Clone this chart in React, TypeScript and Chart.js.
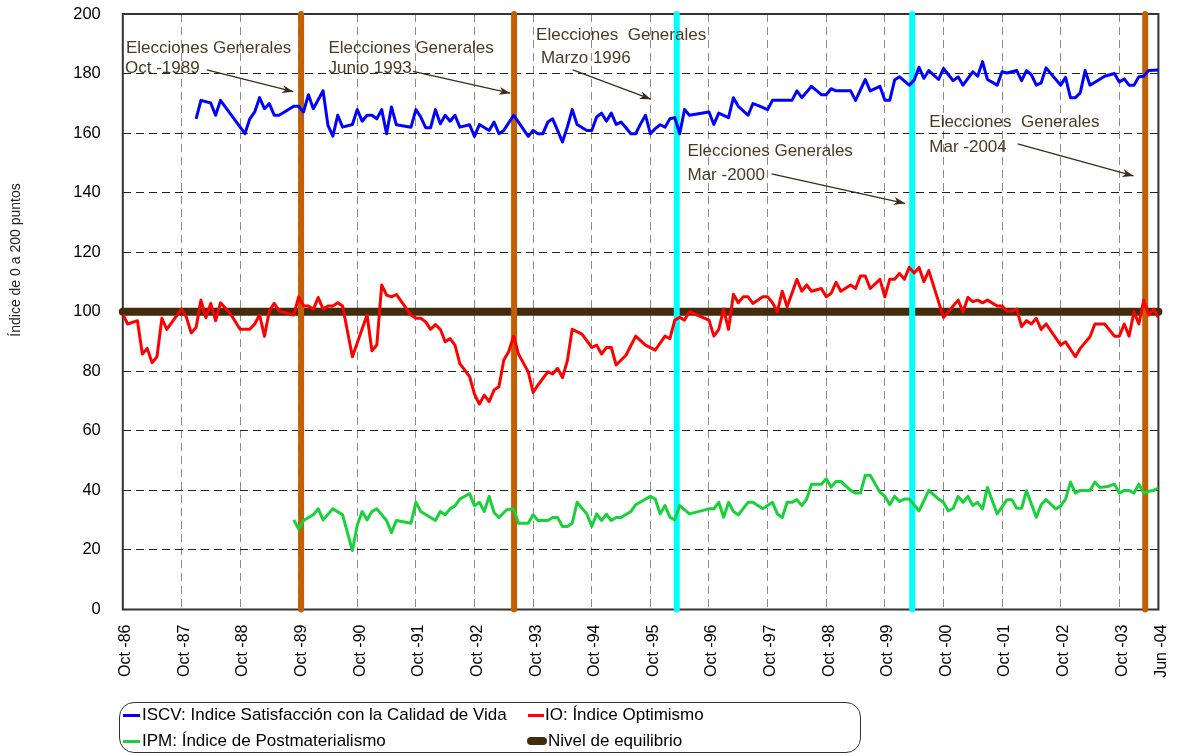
import React, { useEffect, useRef } from 'react';
import { Chart, registerables } from 'chart.js';

Chart.register(...registerables);

const FONT = '"Liberation Sans", Arial, Helvetica, sans-serif';

// x axis: months counted from Oct-1986 (0) to Jun-2004 (212)
const xTickMonths = [0, 12, 24, 36, 48, 60, 72, 84, 96, 108, 120, 132, 144, 156, 168, 180, 192, 204, 212];
const xTickLabels = [
  'Oct -86', 'Oct -87', 'Oct -88', 'Oct -89', 'Oct -90', 'Oct -91', 'Oct -92', 'Oct -93', 'Oct -94',
  'Oct -95', 'Oct -96', 'Oct -97', 'Oct -98', 'Oct -99', 'Oct -00', 'Oct -01', 'Oct -02', 'Oct -03', 'Jun -04',
];
const yMin = 0;
const yMax = 200;
const yStep = 20;

// ISCV: Indice Satisfacción con la Calidad de Vida  [month, value]
const iscv: [number, number][] = [
  [15, 164.8], [16, 171], [18, 170.1], [19, 166], [20, 171], [25, 159.8], [26, 164.8], [27, 167.1], [28, 171.9],
  [29, 168.2], [30, 169.9], [31, 166], [32, 166], [35, 169], [36, 169], [37, 167.1], [38, 172.9], [39, 168.2],
  [41, 174.2], [42, 162.6], [43, 159], [44, 166], [45, 162], [47, 162.9], [48, 167.9], [49, 164], [50, 166],
  [51, 166], [52, 164.8], [53, 167.9], [54, 159.8], [55, 168.8], [56, 162.8], [59, 162], [60, 167.9], [61, 165.4],
  [62, 161.8], [63, 161.8], [64, 167.9], [65, 163.1], [66, 166], [67, 164], [68, 166], [69, 162], [71, 162.8],
  [72, 158.9], [73, 162.9], [75, 160.9], [76, 163.7], [77, 159.8], [78, 160.9], [80, 166], [81, 163.7], [83, 158.9],
  [84, 160.9], [85, 159.8], [86, 159.8], [87, 163.7], [88, 164.8], [89, 160.9], [90, 157], [91, 162], [92, 167.9],
  [93, 162.9], [95, 160.9], [96, 160.9], [97, 165.4], [98, 166.7], [99, 164], [100, 166.7], [101, 162.9],
  [102, 163.7], [103, 161.8], [104, 159.8], [105, 159.8], [106, 163.1], [107, 166], [108, 159.8], [109, 161.5],
  [110, 162.8], [111, 162], [112, 164.8], [113, 165.2], [114, 159.8], [115, 167.9], [116, 166], [120, 167.1],
  [121, 162.9], [122, 166.7], [124, 165.2], [125, 171.9], [126, 169], [128, 166], [129, 169.9], [130, 169.3],
  [132, 167.9], [133, 171], [137, 171], [138, 174.2], [139, 171.9], [141, 175.7], [143, 172.9], [144, 172.9],
  [145, 174.9], [146, 174.2], [149, 174.2], [150, 171], [152, 178], [153, 174.2], [155, 175.7], [156, 171],
  [157, 171], [158, 177.8], [159, 178.9], [161, 176.1], [162, 177.8], [163, 182.1], [164, 178.4], [165, 181],
  [167, 178], [168, 181.7], [170, 177.6], [171, 178.9], [172, 176.1], [174, 180.6], [175, 179.1], [176, 184],
  [177, 178], [179, 176.1], [180, 180.6], [181, 180.2], [183, 181], [184, 177.6], [185, 181], [186, 179.6],
  [187, 176.1], [188, 176.9], [189, 181.9], [192, 176.1], [193, 178.7], [194, 171.9], [195, 171.9], [196, 173.5],
  [197, 181], [198, 176.1], [201, 179.1], [203, 180], [204, 177.2], [205, 178.2], [206, 176.1], [207, 176.1],
  [208, 178.9], [209, 179.1], [210, 181], [212, 181.2],
];

// IO: Índice Optimismo
const io: [number, number][] = [
  [0, 99.2], [1, 95.9], [3, 97], [4, 85.8], [5, 87.7], [6, 82.9], [7, 84.9], [8, 97.8], [9, 94.1], [12, 100.9],
  [13, 98.3], [14, 92.9], [15, 94.7], [16, 103.9], [17, 98], [18, 102.8], [19, 97], [20, 103], [22, 99.4],
  [24, 94.1], [26, 94.1], [27, 95.9], [28, 98.9], [29, 91.8], [30, 100.3], [31, 102.8], [32, 100.2], [35, 98.9],
  [36, 105], [37, 102], [38, 101.9], [39, 100.8], [40, 104.8], [41, 100.9], [42, 101.9], [43, 101.9], [44, 103],
  [45, 101.9], [47, 84.9], [50, 98.9], [51, 86.9], [52, 88.8], [53, 109], [54, 105.6], [55, 105], [56, 105.8],
  [59, 98.9], [60, 97.8], [61, 97.8], [62, 96.6], [63, 94.1], [64, 95.7], [65, 94.1], [66, 89.9], [67, 91],
  [68, 88.8], [69, 82.6], [71, 78.2], [72, 72.3], [73, 69], [74, 72], [75, 69.8], [76, 73.7], [77, 74.8],
  [78, 83.8], [79, 86.6], [80, 91.8], [81, 85.8], [83, 79.8], [84, 72.9], [85, 75.4], [87, 79.8], [88, 79.1],
  [89, 81], [90, 77.9], [91, 83.5], [92, 94.1], [94, 92.5], [96, 88], [97, 88.8], [98, 85.8], [99, 88], [100, 88],
  [101, 82.1], [103, 85.4], [105, 91.8], [107, 88.8], [109, 87.1], [111, 91.8], [112, 91], [113, 97.2], [114, 98.1],
  [115, 97.2], [116, 100], [120, 97.2], [121, 91.8], [122, 94.1], [123, 100.9], [124, 94.1], [125, 105.9],
  [126, 103], [127, 105], [128, 105], [129, 102.8], [131, 105], [132, 105], [133, 103], [134, 100], [135, 106.9],
  [136, 101.7], [138, 110.9], [139, 106.9], [140, 109], [141, 106.9], [143, 107.8], [144, 105], [145, 106.2],
  [146, 109.9], [147, 106.9], [149, 109], [150, 107.8], [151, 112], [152, 112], [153, 107.8], [155, 110.9],
  [156, 105], [157, 110.9], [158, 110.9], [159, 112.9], [160, 110.9], [161, 114.9], [162, 113], [163, 114.9],
  [164, 110.1], [165, 113.8], [168, 98.1], [171, 103.9], [172, 100], [173, 104.8], [174, 103.4], [175, 103.9],
  [176, 103], [177, 103.9], [179, 101.9], [180, 101.9], [181, 100.2], [182, 100.2], [183, 100.9], [184, 95],
  [185, 97], [186, 95.9], [187, 97.8], [188, 94.1], [189, 95.9], [192, 88.8], [193, 89.9], [195, 84.9], [196, 87.7],
  [198, 91.6], [199, 95.9], [201, 95.9], [203, 91.8], [204, 91.8], [205, 95.9], [206, 91.8], [207, 100], [208, 95.9],
  [209, 103.9], [210, 98.9], [211, 100.8], [212, 98.1],
];

// IPM: Índice de Postmaterialismo
const ipm: [number, number][] = [
  [35, 30.1], [36, 27], [37, 29.9], [39, 31.8], [40, 33.8], [41, 30.1], [43, 33.8], [45, 31.8], [47, 19.8],
  [48, 28.4], [49, 32.9], [50, 30.1], [51, 32.9], [52, 33.8], [54, 29.9], [55, 25.8], [56, 29.9], [59, 29],
  [60, 36], [61, 32.9], [64, 29.9], [65, 32.9], [66, 31.8], [67, 33.8], [68, 34.8], [69, 37.1], [71, 38.9],
  [72, 34.8], [73, 36], [74, 32.9], [75, 38], [76, 32.6], [77, 30.9], [78.6, 33.5], [80, 33.8], [81, 29], [83, 29],
  [84, 31.8], [85, 29.9], [87, 29.9], [88, 30.9], [89, 30.9], [90, 27.9], [91, 27.9], [92, 29], [93, 36], [95, 32.1],
  [96, 27.9], [97, 32.1], [98, 29.9], [99, 32], [100, 29.9], [101, 30.9], [102, 30.9], [104, 32.9], [105, 35.2],
  [108, 38], [109, 37.1], [110, 32.1], [111, 34.9], [112, 31], [113, 30.1], [114, 34.9], [116, 32.1], [120, 33.8],
  [121, 33.8], [122, 36], [123, 31], [124, 36], [125, 32.9], [126, 31.8], [128, 36], [129, 36], [131, 33.8],
  [133, 36], [134, 32.1], [135, 30.9], [136, 36], [137, 36], [138, 36.9], [139, 34.9], [140, 37.1], [141, 42.1],
  [143, 42.1], [144, 43.9], [145, 41.1], [146, 43], [147, 43], [149, 40], [150, 39.1], [151, 39.1], [152, 45.1],
  [153, 45.1], [155, 39.4], [156, 38], [157, 35.2], [158, 38], [159, 36.3], [160, 37.1], [161, 37.1], [163, 33.1],
  [165, 40], [167, 37.1], [168, 36], [169, 33.1], [170, 34], [171, 38], [172, 36], [173, 38], [174, 34.9], [175, 36],
  [176, 33.8], [177, 41], [179, 32.1], [181, 36.9], [182, 36.9], [183, 34], [184, 34], [185, 39.9], [187, 31],
  [188, 35.2], [189, 36.9], [191, 33.8], [192, 34.8], [193, 37.1], [194, 42.8], [195, 39.1], [196, 40], [198, 40],
  [199, 42.8], [200, 41], [201.6, 41.3], [203, 42.1], [204, 39.1], [205, 40], [206, 40], [207, 39.1], [208, 42.1],
  [209, 39.1], [210, 39.7], [211, 40], [212, 40.8],
];

// Nivel de equilibrio
const equilibriumLevel = 100;

// Elecciones generales (month index from Oct-86)
const electionMonths = [36.5, 80.1, 113.4, 161.6, 209.3];
const electionColors = ['#C06000', '#C06000', '#00FFFF', '#00FFFF', '#C06000'];

const annotationTexts = [
  ['Elecciones Generales', 'Oct -1989'],
  ['Elecciones Generales', 'Junio 1993'],
  ['Elecciones  Generales', 'Marzo 1996'],
  ['Elecciones Generales', 'Mar -2000'],
  ['Elecciones  Generales', 'Mar -2004'],
];
// anchor positions (in axis units) for the annotation texts and arrows
const annotationLayout = [
  { text: [[0.65, 186.9], [0.45, 180.2]], from: [17.2, 181.2], to: [34.9, 173.9] },
  { text: [[42.1, 186.9], [42.1, 180.2]], from: [59.4, 180.7], to: [79.3, 173.4] },
  { text: [[84.6, 191.1], [85.6, 183.5]], from: [92.1, 181.2], to: [108.1, 171.4] },
  { text: [[115.6, 152.3], [115.6, 144.3]], from: [132.8, 146.3], to: [160.1, 136.4] },
  { text: [[165.1, 162.0], [165.1, 153.8]], from: [183.2, 156.4], to: [206.9, 145.6] },
];

const yTitle = 'Índice de 0 a 200 puntos';

const toPts = (arr: [number, number][]) => arr.map(([x, y]) => ({ x, y }));

const overlayPlugin = {
  id: 'overlay',
  beforeDatasetsDraw(chart: any) {
    const { ctx, chartArea: a } = chart;
    ctx.save();
    ctx.strokeStyle = '#333';
    ctx.lineWidth = 2;
    ctx.setLineDash([]);
    ctx.strokeRect(a.left, a.top, a.right - a.left, a.bottom - a.top);
    ctx.restore();
  },
  afterDatasetsDraw(chart: any) {
    const { ctx, scales } = chart;
    const xs = scales.x;
    const ys = scales.y;
    ctx.save();
    ctx.font = `17px ${FONT}`;
    ctx.textAlign = 'left';
    ctx.textBaseline = 'alphabetic';
    annotationTexts.forEach((lines, i) => {
      const lay = annotationLayout[i];
      ctx.fillStyle = '#4B3A22';
      lines.forEach((t, j) => {
        ctx.fillText(t, xs.getPixelForValue(lay.text[j][0]), ys.getPixelForValue(lay.text[j][1]));
      });
      const x1 = xs.getPixelForValue(lay.from[0]);
      const y1 = ys.getPixelForValue(lay.from[1]);
      const x2 = xs.getPixelForValue(lay.to[0]);
      const y2 = ys.getPixelForValue(lay.to[1]);
      ctx.strokeStyle = '#3D2B14';
      ctx.lineWidth = 1.3;
      ctx.beginPath();
      ctx.moveTo(x1, y1);
      ctx.lineTo(x2, y2);
      ctx.stroke();
      const ang = Math.atan2(y2 - y1, x2 - x1);
      const L = 11;
      const W = 4;
      const bx = x2 - L * Math.cos(ang);
      const by = y2 - L * Math.sin(ang);
      const nx = -Math.sin(ang);
      const ny = Math.cos(ang);
      ctx.fillStyle = '#3D2B14';
      ctx.beginPath();
      ctx.moveTo(x2, y2);
      ctx.lineTo(bx + W * nx, by + W * ny);
      ctx.lineTo(x2 - (L - 3) * Math.cos(ang), y2 - (L - 3) * Math.sin(ang));
      ctx.lineTo(bx - W * nx, by - W * ny);
      ctx.closePath();
      ctx.fill();
    });
    // y axis title
    ctx.translate(16, 260);
    ctx.rotate(-Math.PI / 2);
    ctx.font = `14px ${FONT}`;
    ctx.fillStyle = '#222';
    ctx.textAlign = 'center';
    ctx.textBaseline = 'middle';
    ctx.fillText(yTitle, 0, 0);
    ctx.restore();
  },
};

export default function App() {
  const canvasRef = useRef<HTMLCanvasElement | null>(null);

  useEffect(() => {
    if (!canvasRef.current) return;
    const electionSets = electionMonths.map((m, i) => ({
      label: 'elec' + i,
      data: [{ x: m, y: yMin }, { x: m, y: yMax }],
      borderColor: electionColors[i],
      borderWidth: 6,
      borderCapStyle: 'round',
      pointRadius: 0,
      clip: false,
      order: 2,
    }));
    const chart = new Chart(canvasRef.current, {
      type: 'line',
      data: {
        datasets: [
          {
            label: 'ISCV: Indice Satisfacción con la Calidad de Vida',
            data: toPts(iscv),
            borderColor: '#0000FF',
            borderWidth: 3,
            borderJoinStyle: 'round',
            pointRadius: 0,
            order: 1,
          },
          {
            label: 'IO: Índice Optimismo',
            data: toPts(io),
            borderColor: '#FF0000',
            borderWidth: 3,
            borderJoinStyle: 'round',
            pointRadius: 0,
            order: 1,
          },
          {
            label: 'IPM: Índice de Postmaterialismo',
            data: toPts(ipm),
            borderColor: '#19D13A',
            borderWidth: 3,
            borderJoinStyle: 'round',
            pointRadius: 0,
            order: 1,
          },
          ...electionSets,
          {
            label: 'Nivel de equilibrio',
            data: [{ x: xTickMonths[0], y: equilibriumLevel }, { x: xTickMonths[xTickMonths.length - 1], y: equilibriumLevel }],
            borderColor: '#432B0B',
            borderWidth: 8,
            borderCapStyle: 'round',
            pointRadius: 0,
            clip: false,
            order: 3,
          },
        ] as any,
      },
      options: {
        animation: false,
        responsive: false,
        maintainAspectRatio: false,
        devicePixelRatio: 1,
        parsing: false,
        layout: { autoPadding: false, padding: { left: 0, top: 14, right: 24.6, bottom: 0 } },
        plugins: {
          legend: { display: false },
          tooltip: { enabled: false },
          title: { display: false },
        },
        elements: { line: { tension: 0 } },
        scales: {
          x: {
            type: 'linear',
            min: xTickMonths[0],
            max: xTickMonths[xTickMonths.length - 1],
            afterBuildTicks: (s: any) => {
              s.ticks = xTickMonths.map((v) => ({ value: v }));
            },
            afterFit: (s: any) => {
              s.height = 146.5;
              s.paddingLeft = 0;
              s.paddingRight = 0;
              s.paddingTop = 0;
              s.paddingBottom = 0;
            },
            ticks: {
              autoSkip: false,
              minRotation: 90,
              maxRotation: 90,
              padding: 15,
              labelOffset: 3,
              color: '#000',
              font: { family: FONT, size: 16 },
              callback: (_v: any, i: number) => xTickLabels[i],
            },
            grid: {
              color: '#8a8a8a',
              lineWidth: 1,
              drawTicks: false,
              borderDash: [8, 5],
            },
            border: { display: false, dash: [8, 5] },
          },
          y: {
            type: 'linear',
            min: yMin,
            max: yMax,
            afterFit: (s: any) => {
              s.width = 122.8;
              s.paddingLeft = 0;
              s.paddingRight = 0;
              s.paddingTop = 0;
              s.paddingBottom = 0;
            },
            ticks: {
              stepSize: yStep,
              padding: 22,
              color: '#000',
              font: { family: FONT, size: 16.5 },
            },
            grid: {
              color: '#222',
              lineWidth: 1,
              drawTicks: false,
              borderDash: [8, 5],
            },
            border: { display: false, dash: [8, 5] },
          },
        },
      } as any,
      plugins: [overlayPlugin],
    });
    return () => chart.destroy();
  }, []);

  const legendText: React.CSSProperties = {
    position: 'absolute',
    fontFamily: FONT,
    fontSize: 17,
    lineHeight: '20px',
    color: '#000',
    whiteSpace: 'nowrap',
  };

  return (
    <div style={{ position: 'fixed', left: 0, top: 0, width: 1183, height: 756, background: '#fff' }}>
      <canvas ref={canvasRef} width={1183} height={756} style={{ position: 'absolute', left: 0, top: 0, width: 1183, height: 756 }} />
      <div
        style={{
          position: 'absolute',
          left: 119,
          top: 702,
          width: 742,
          height: 51,
          border: '1px solid #333',
          borderRadius: 15,
          boxSizing: 'border-box',
        }}
      />
      <div style={{ position: 'absolute', left: 123, top: 714, width: 17, height: 3, background: '#0000FF' }} />
      <div style={{ ...legendText, left: 142, top: 705 }}>ISCV: Indice Satisfacción con la Calidad de Vida</div>
      <div style={{ position: 'absolute', left: 528, top: 714, width: 16, height: 3, background: '#FF0000' }} />
      <div style={{ ...legendText, left: 545, top: 705 }}>IO: Índice Optimismo</div>
      <div style={{ position: 'absolute', left: 123, top: 740, width: 17, height: 3, background: '#19D13A' }} />
      <div style={{ ...legendText, left: 142, top: 731 }}>IPM: Índice de Postmaterialismo</div>
      <div style={{ position: 'absolute', left: 527, top: 737, width: 20, height: 8, borderRadius: 4, background: '#432B0B' }} />
      <div style={{ ...legendText, left: 548, top: 731 }}>Nivel de equilibrio</div>
    </div>
  );
}
